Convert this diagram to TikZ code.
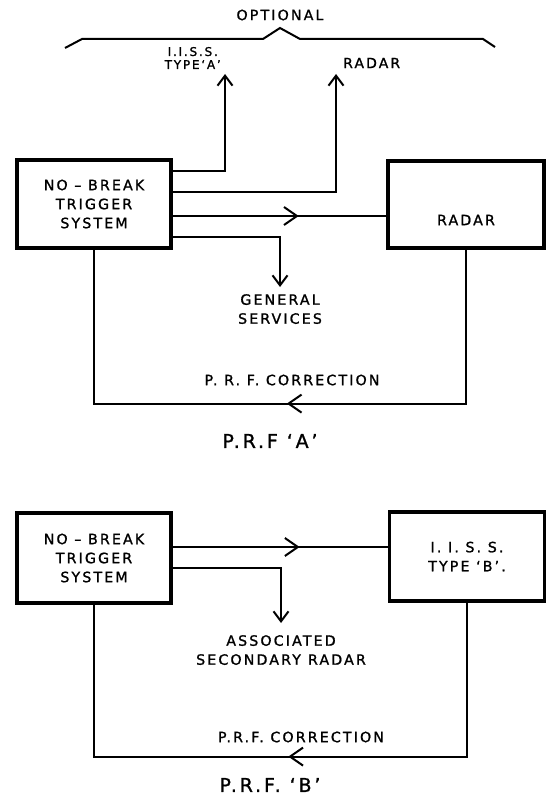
\documentclass[tikz,border=0pt]{standalone}
\usepackage{fontspec}
\setmainfont{DejaVu Sans}[LetterSpace=15,FakeBold=1.2]
\usetikzlibrary{arrows.meta,calc,positioning,decorations.markings}

\newcommand{\lettering}{\fontsize{14.2}{19}\selectfont}
\newcommand{\smalllettering}{\fontsize{12}{13}\selectfont}
\newcommand{\biglettering}{\fontsize{19}{22}\selectfont}

\tikzset{
  box/.style={draw,line width=3.2pt,minimum width=154pt,minimum height=88pt,inner sep=0pt,align=center,font=\lettering},
  conn/.style={line width=2pt},
  arr/.style={conn,-{Straight Barb[length=10pt,width=15pt]}},
  midarr/.style={conn,postaction={decorate},
    decoration={markings,mark=at position #1 with {\arrow{Straight Barb[length=13pt,width=18pt]}}}},
  lbl/.style={align=center,font=\lettering,inner sep=0pt}
}

\begin{document}
\begin{tikzpicture}[x=1pt,y=-1pt]
  \useasboundingbox (0,0) rectangle (550,799);
  % P.R.F. 'A'
  \node[lbl] (opt) at (280,15) {OPTIONAL};
  \draw[conn] (65,48) -- (82,39) -- (263,39) -- (280,28) -- (300,39) -- (483,39) -- (495,47);
  \node[box] (nbA) at (94,204) {NO – BREAK\\TRIGGER\\SYSTEM};
  \node[box,minimum width=156pt,minimum height=87pt] (radA) at (466,204.5) {};
  \node[lbl] (radTxt) at (466,220) {RADAR};
  \coordinate (iissTip) at (225,74);
  \coordinate (radTip) at (336,74);
  \node[lbl,font=\smalllettering,anchor=east] (iissA) at (221,58) {I.I.S.S.\\TYPE‘A’};
  \node[lbl,font=\fontsize{14}{14}\selectfont,anchor=west] (radOpt) at (343,63) {RADAR};
  \draw[arr] ([yshift=33pt]nbA.east) -| (iissTip);
  \draw[arr] ([yshift=12pt]nbA.east) -| (radTip);
  \draw[midarr=0.59] ([yshift=-12pt]nbA.east) -- (radA.west |- 0,216);
  \node[lbl,anchor=north,inner ysep=7pt] (genA) at (280,287) {GENERAL\\SERVICES};
  \draw[arr] ([yshift=-33pt]nbA.east) -| (genA.north);
  \draw[midarr=0.49] (radA.south) -- ++(0,154) -| (nbA.south);
  \node[lbl] (corrA) at (292,380) {P. R. F. CORRECTION};
  \node[lbl,font=\biglettering] (prfA) at (270,441) {P.R.F ‘A’};
  % P.R.F. 'B'
  \node[box,minimum height=90pt] (nbB) at (94,558) {NO – BREAK\\TRIGGER\\SYSTEM};
  \node[box,minimum width=155pt,minimum height=89pt] (iissB) at (467,556.5) {I. I. S. S.\\TYPE ‘B’.};
  \draw[midarr=0.59] ([yshift=11pt]nbB.east) -- (iissB.west |- 0,547);
  \node[lbl,anchor=north,inner ysep=12pt] (assocB) at (281,623) {ASSOCIATED\\SECONDARY\enspace RADAR};
  \draw[arr] ([yshift=-10pt]nbB.east) -| (assocB.north);
  \draw[midarr=0.49] (iissB.south) -- ++(0,154) -| (nbB.south);
  \node[lbl] (corrB) at (301,737) {P.R.F. CORRECTION};
  \node[lbl,font=\biglettering] (prfB) at (270,785) {P.R.F. ‘B’};
\end{tikzpicture}
\end{document}
